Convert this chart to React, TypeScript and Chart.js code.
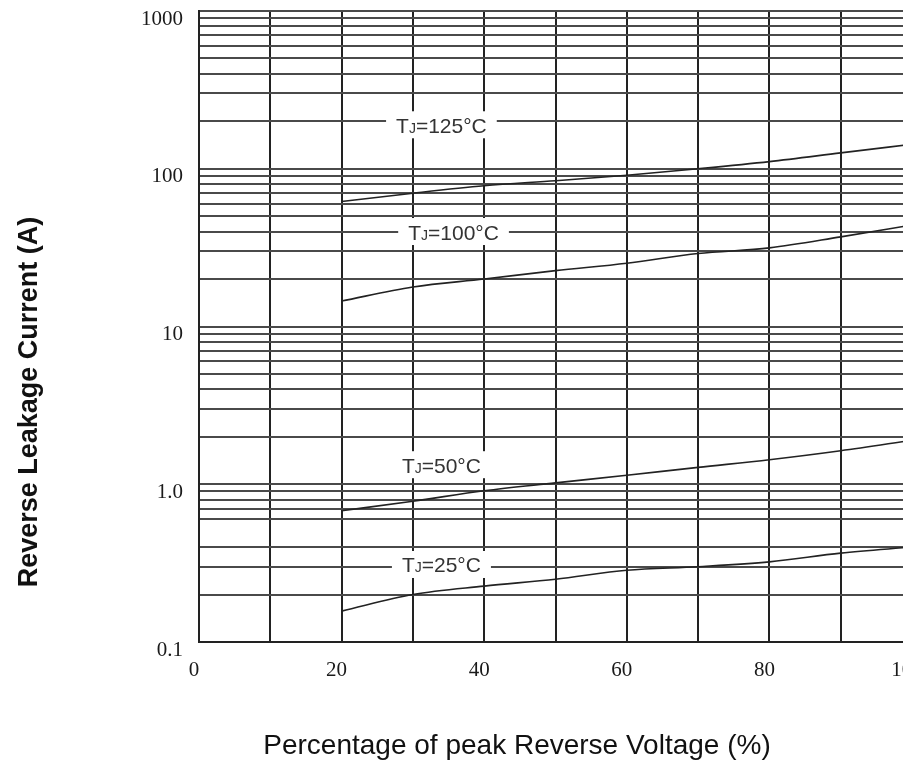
import React, { useEffect, useRef } from "react";
import { Chart, registerables } from "chart.js";

Chart.register(...registerables);

// ---- data ----
const xValues = [20, 30, 40, 50, 60, 70, 80, 90, 100];
const tj125 = [62, 70, 78, 84, 91, 100, 111, 126, 143];
const tj100 = [14.5, 17.8, 20, 22.6, 25.2, 29, 31.5, 37, 44];
const tj50 = [0.68, 0.78, 0.91, 1.02, 1.14, 1.28, 1.43, 1.63, 1.9];
const tj25 = [0.157, 0.2, 0.226, 0.25, 0.285, 0.3, 0.322, 0.366, 0.4];

const labelTemps = ["125", "100", "50", "25"];
const labelX = [34, 35.7, 34, 34];
const labelY = [190, 40, 1.33, 0.31];

const yGridValues = [
  0.1, 0.2, 0.3, 0.4, 0.6, 0.7, 0.8, 0.9,
  1, 2, 3, 4, 5, 6, 7, 8, 9,
  10, 20, 30, 40, 50, 60, 70, 80, 90,
  100, 200, 300, 400, 500, 600, 700, 800, 900,
  1000,
];
const yLabelValues = [0.1, 1, 10, 100, 1000];
const yLabelTexts = ["0.1", "1.0", "10", "100", "1000"];
const xLabelValues = [0, 20, 40, 60, 80, 100];

const xTitle = "Percentage of peak Reverse Voltage (%)";
const yTitle = "Reverse Leakage Current (A)";

const CANVAS_W = 930;
const CANVAS_H = 763;

const labelPlugin = {
  id: "tjLabels",
  afterDatasetsDraw(chart: any) {
    const { ctx, scales } = chart;
    const xs = scales.x;
    const ys = scales.y;
    labelTemps.forEach((t, i) => {
      const px = xs.getPixelForValue(labelX[i]);
      const py = ys.getPixelForValue(labelY[i]);
      const big = '21px "Liberation Sans", Arial, sans-serif';
      const small = '14px "Liberation Sans", Arial, sans-serif';
      ctx.save();
      ctx.font = big;
      const wT = ctx.measureText("T").width;
      const rest = "=" + t + "°C";
      const wR = ctx.measureText(rest).width;
      ctx.font = small;
      const wJ = ctx.measureText("J").width;
      const total = wT + wJ + wR;
      const boxW = total + 20;
      const boxH = 27;
      ctx.fillStyle = "#ffffff";
      ctx.fillRect(px - boxW / 2, py - boxH / 2, boxW, boxH);
      ctx.fillStyle = "#333333";
      ctx.textBaseline = "alphabetic";
      ctx.textAlign = "left";
      const baseline = py + 8;
      let cx = px - total / 2;
      ctx.font = big;
      ctx.fillText("T", cx, baseline);
      cx += wT;
      ctx.font = small;
      ctx.fillText("J", cx, baseline);
      cx += wJ;
      ctx.font = big;
      ctx.fillText(rest, cx, baseline);
      ctx.restore();
    });
  },
  afterDraw(chart: any) {
    const { ctx } = chart;
    ctx.save();
    ctx.fillStyle = "#111111";
    ctx.textAlign = "center";
    ctx.textBaseline = "middle";
    ctx.font = '28px "Liberation Sans", Arial, sans-serif';
    ctx.fillText(xTitle, 517, 746);
    ctx.translate(30, 402);
    ctx.rotate(-Math.PI / 2);
    ctx.font = 'bold 27px "Liberation Sans", Arial, sans-serif';
    ctx.fillText(yTitle, 0, 0);
    ctx.restore();
  },
};

export default function App() {
  const canvasRef = useRef<HTMLCanvasElement | null>(null);

  useEffect(() => {
    if (!canvasRef.current) return;
    const mk = (arr: number[]) => xValues.map((x, i) => ({ x, y: arr[i] }));
    const lineStyle = {
      borderColor: "#222222",
      borderWidth: 1.6,
      pointRadius: 0,
      fill: false,
      cubicInterpolationMode: "monotone" as const,
    };
    const chart = new Chart(canvasRef.current, {
      type: "line",
      data: {
        datasets: [
          { label: "TJ=125°C", data: mk(tj125), ...lineStyle },
          { label: "TJ=100°C", data: mk(tj100), ...lineStyle },
          { label: "TJ=50°C", data: mk(tj50), ...lineStyle },
          { label: "TJ=25°C", data: mk(tj25), ...lineStyle },
        ],
      },
      options: {
        responsive: false,
        animation: false,
        devicePixelRatio: 1,
        layout: { padding: { left: 0, top: 11, right: CANVAS_W - 912, bottom: 0 } },
        plugins: {
          legend: { display: false },
          tooltip: { enabled: false },
        },
        scales: {
          x: {
            type: "linear",
            min: 0,
            max: 100,
            afterFit: (scale: any) => {
              scale.height = CANVAS_H - 642;
              scale.paddingLeft = 0;
              scale.paddingRight = 0;
            },
            afterBuildTicks: (scale: any) => {
              const t = [];
              for (let v = 0; v <= 100; v += 10) t.push({ value: v });
              scale.ticks = t;
            },
            ticks: {
              autoSkip: false,
              maxRotation: 0,
              padding: 18,
              labelOffset: -5,
              color: "#1a1a1a",
              font: { family: '"Liberation Serif", "Times New Roman", serif', size: 21, lineHeight: 1 },
              callback: (v: any) => (xLabelValues.includes(Number(v)) ? String(v) : ""),
            },
            grid: { color: "#222222", lineWidth: 2, drawTicks: false },
            border: { color: "#222222", width: 2 },
          },
          y: {
            type: "logarithmic",
            min: 0.1,
            max: 1000,
            afterFit: (scale: any) => {
              scale.width = 199;
              scale.paddingTop = 0;
              scale.paddingBottom = 0;
            },
            afterBuildTicks: (scale: any) => {
              scale.ticks = yGridValues.map((v) => ({ value: v }));
            },
            ticks: {
              autoSkip: false,
              padding: 16,
              labelOffset: 8,
              color: "#1a1a1a",
              font: { family: '"Liberation Serif", "Times New Roman", serif', size: 21, lineHeight: 1 },
              callback: (v: any) => {
                const idx = yLabelValues.findIndex((l) => Math.abs(l - Number(v)) < 1e-9);
                return idx >= 0 ? yLabelTexts[idx] : "";
              },
            },
            grid: { color: "#4a4a4a", lineWidth: 2, drawTicks: false },
            border: { color: "#222222", width: 2 },
          },
        },
      },
      plugins: [labelPlugin],
    });
    return () => chart.destroy();
  }, []);

  return (
    <div
      style={{
        position: "fixed",
        left: 0,
        top: 0,
        width: 903,
        height: 763,
        overflow: "hidden",
        background: "#ffffff",
      }}
    >
      <canvas
        ref={canvasRef}
        width={CANVAS_W}
        height={CANVAS_H}
        style={{ width: CANVAS_W, height: CANVAS_H, display: "block" }}
      />
    </div>
  );
}
